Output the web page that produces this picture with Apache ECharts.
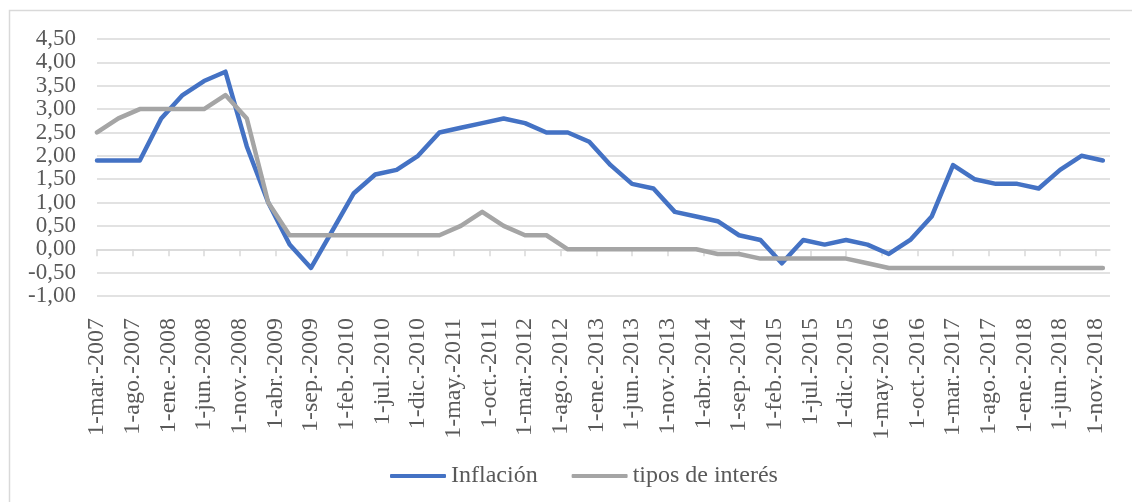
<!DOCTYPE html>
<html>
<head>
<meta charset="utf-8">
<script src="https://cdn.jsdelivr.net/npm/echarts@6/dist/echarts.min.js"></script>
<style>
  html, body { margin: 0; padding: 0; background: #fff; }
  #chart { width: 1132px; height: 502px; }
</style>
</head>
<body>
<div id="chart"></div>
<script>
// month names used in the axis labels
const meses = ['ene', 'feb', 'mar', 'abr', 'may', 'jun', 'jul', 'ago', 'sep', 'oct', 'nov', 'dic']
const primerAnio = 2007
const primerMes = 2        // marzo
const numMeses = 143       // mar.-2007 .. ene.-2019 (axis span)
const pasoDatos = 3        // one observation per quarter

// quarterly values, mar.-2007 .. dic.-2018
const inflacion = [
  1.9, 1.9, 1.9, 2.8,
  3.3, 3.6, 3.8, 2.2,
  1.0, 0.1, -0.4, 0.4,
  1.2, 1.6, 1.7, 2.0,
  2.5, 2.6, 2.7, 2.8,
  2.7, 2.5, 2.5, 2.3,
  1.8, 1.4, 1.3, 0.8,
  0.7, 0.6, 0.3, 0.2,
  -0.3, 0.2, 0.1, 0.2,
  0.1, -0.1, 0.2, 0.7,
  1.8, 1.5, 1.4, 1.4,
  1.3, 1.7, 2.0, 1.9
]
const tipos = [
  2.5, 2.8, 3.0, 3.0,
  3.0, 3.0, 3.3, 2.8,
  1.0, 0.3, 0.3, 0.3,
  0.3, 0.3, 0.3, 0.3,
  0.3, 0.5, 0.8, 0.5,
  0.3, 0.3, 0.0, 0.0,
  0.0, 0.0, 0.0, 0.0,
  0.0, -0.1, -0.1, -0.2,
  -0.2, -0.2, -0.2, -0.2,
  -0.3, -0.4, -0.4, -0.4,
  -0.4, -0.4, -0.4, -0.4,
  -0.4, -0.4, -0.4, -0.4
]
const yMin = -1
const yMax = 4.5
const yPaso = 0.5

const categorias = []
for (let i = 0; i < numMeses; i++) {
  const m = (primerMes + i) % 12
  const a = primerAnio + Math.floor((primerMes + i) / 12)
  categorias.push('1-' + meses[m] + '.-' + a)
}

const fuente = 'Liberation Serif, Times New Roman, serif'
const gris = '#D9D9D9'
const texto = '#595959'

const chart = echarts.init(document.getElementById('chart'))
chart.setOption({
  animation: false,
  graphic: [{
    type: 'rect',
    shape: { x: 9.5, y: 10.5, width: 1200, height: 600 },
    style: { fill: 'none', stroke: gris, lineWidth: 1.5 }
  }],
  grid: { left: 97, right: 22, top: 39, bottom: 206 },
  legend: {
    left: 385,
    top: 459,
    icon: 'roundRect',
    itemWidth: 56,
    itemHeight: 4,
    itemGap: 34,
    textStyle: { fontFamily: fuente, fontSize: 24, color: texto },
    data: ['Inflación', 'tipos de interés']
  },
  xAxis: [
    {
      type: 'category',
      data: categorias,
      boundaryGap: false,
      axisLine: { onZero: true, lineStyle: { color: gris, width: 1.5 } },
      axisTick: { interval: 4, length: 7, lineStyle: { color: gris, width: 1.5 } },
      axisLabel: { show: false },
      splitLine: { show: false }
    },
    {
      type: 'category',
      data: categorias,
      position: 'bottom',
      boundaryGap: false,
      axisLine: { show: false, onZero: false },
      axisTick: { show: false },
      axisLabel: {
        interval: 4,
        rotate: 90,
        margin: 22,
        hideOverlap: false,
        fontFamily: fuente,
        fontSize: 24,
        color: texto
      },
      splitLine: { show: false }
    }
  ],
  yAxis: {
    type: 'value',
    min: yMin,
    max: yMax,
    interval: yPaso,
    axisLine: { show: false },
    axisTick: { show: false },
    splitLine: { lineStyle: { color: gris, width: 1.5 } },
    axisLabel: {
      margin: 21,
      showMinLabel: true,
      showMaxLabel: true,
      hideOverlap: false,
      fontFamily: fuente,
      fontSize: 23,
      lineHeight: 18,
      color: texto,
      formatter: v => v.toFixed(2).replace('.', ',')
    }
  },
  series: [
    {
      name: 'Inflación',
      type: 'line',
      xAxisIndex: 0,
      symbol: 'none',
      itemStyle: { color: '#4472C4' },
      lineStyle: { color: '#4472C4', width: 4.5, cap: 'round', join: 'round' },
      data: inflacion.map((v, i) => [i * pasoDatos, v])
    },
    {
      name: 'tipos de interés',
      type: 'line',
      xAxisIndex: 0,
      symbol: 'none',
      itemStyle: { color: '#A5A5A5' },
      lineStyle: { color: '#A5A5A5', width: 4.5, cap: 'round', join: 'round' },
      data: tipos.map((v, i) => [i * pasoDatos, v])
    }
  ]
})
</script>
</body>
</html>
